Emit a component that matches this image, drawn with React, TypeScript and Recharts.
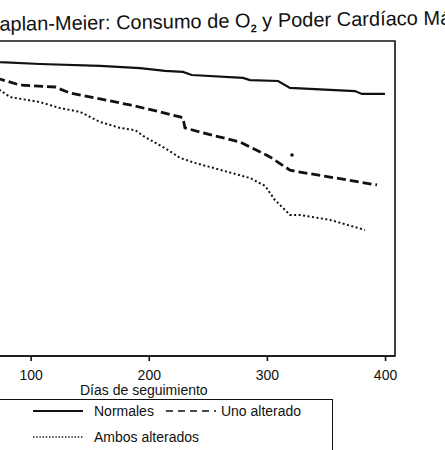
import { ComposedChart, Line, Scatter, XAxis, YAxis, ReferenceArea } from 'recharts';

// Kaplan-Meier curves (día de seguimiento, supervivencia acumulada)
const diasNormales = [0, 40, 73.6, 107.5, 158.3, 192.2, 213.3, 228.5, 236, 279.3, 285.3, 309, 319.1, 374.1, 380, 399.5];
const supNormales = [1, 0.955, 0.933, 0.927, 0.921, 0.914, 0.905, 0.902, 0.892, 0.883, 0.876, 0.873, 0.851, 0.841, 0.832, 0.832];

const diasUnoAlterado = [0, 40, 73.6, 90.6, 120.2, 132.9, 158.3, 183.7, 209.1, 226, 228.5, 230.2, 243, 276.8, 302.2, 319.1, 327.6, 392.8];
const supUnoAlterado = [1, 0.93, 0.879, 0.86, 0.854, 0.835, 0.816, 0.797, 0.775, 0.759, 0.756, 0.724, 0.711, 0.679, 0.632, 0.59, 0.584, 0.543];

const diasAmbos = [0, 40, 73.6, 82.2, 107.5, 124.4, 141.4, 158.3, 175.2, 188, 196.4, 213.3, 226, 238.7, 285.3, 298, 306.4, 319.1, 327.6, 353, 382.6];
const supAmbos = [1, 0.91, 0.844, 0.822, 0.806, 0.787, 0.775, 0.743, 0.724, 0.717, 0.695, 0.66, 0.629, 0.613, 0.565, 0.54, 0.495, 0.448, 0.448, 0.432, 0.4];

// punto suelto sobre la curva "Uno alterado"
const diasMarca = [320.8];
const supMarca = [0.638];

const ticksDias = [0, 100, 200, 300, 400];

const toData = (dias: number[], sup: number[]) => dias.map((d, i) => ({ dia: d, sup: sup[i] }));

const normales = toData(diasNormales, supNormales);
const unoAlterado = toData(diasUnoAlterado, supUnoAlterado);
const ambos = toData(diasAmbos, supAmbos);
const marca = toData(diasMarca, supMarca);

const FONT = '"Liberation Sans", Arial, Helvetica, sans-serif';
const INK = '#111';

function LegendSample({ dash, width }: { dash?: string; width: number }) {
  return (
    <svg width={50} height={10} style={{ display: 'block' }}>
      <line x1={0} y1={5} x2={50} y2={5} stroke={INK} strokeWidth={width} strokeDasharray={dash} />
    </svg>
  );
}

export default function App() {
  return (
    <div
      style={{
        position: 'fixed',
        left: 0,
        top: 0,
        width: 445,
        height: 450,
        overflow: 'hidden',
        background: '#fff',
        fontFamily: FONT,
        color: INK,
      }}
    >
      <div
        style={{
          position: 'absolute',
          left: -14,
          top: 14,
          fontSize: 20,
          lineHeight: '20px',
          whiteSpace: 'nowrap',
          transform: 'rotate(-0.8deg)',
          transformOrigin: '0 50%',
        }}
      >
        Kaplan-Meier: Consumo de O<sub style={{ fontSize: 11, fontWeight: 700, lineHeight: 0 }}>2</sub> y Poder Cardíaco Máximo
      </div>

      <div style={{ position: 'absolute', left: -87, top: 0 }}>
        <ComposedChart width={492} height={450} margin={{ top: 41, right: 10, bottom: 74, left: 0 }}>
          <XAxis
            dataKey="dia"
            type="number"
            domain={[0, 408]}
            ticks={ticksDias}
            interval={0}
            height={20}
            tickSize={5}
            tickMargin={9}
            axisLine={{ stroke: INK, strokeWidth: 1.6 }}
            tickLine={{ stroke: INK, strokeWidth: 1.6 }}
            tick={{ fill: INK, fontSize: 14, fontFamily: FONT }}
            allowDataOverflow
          />
          <YAxis hide type="number" domain={[0, 1]} />
          <ReferenceArea x1={0} x2={408} y1={0} y2={1} fill="none" stroke={INK} strokeWidth={1.6} ifOverflow="visible" />
          <Line data={normales} dataKey="sup" type="linear" stroke={INK} strokeWidth={2.2} dot={false} isAnimationActive={false} />
          <Line data={unoAlterado} dataKey="sup" type="linear" stroke={INK} strokeWidth={2.8} strokeDasharray="9 4" dot={false} isAnimationActive={false} />
          <Line data={ambos} dataKey="sup" type="linear" stroke={INK} strokeWidth={2} strokeDasharray="2 2.5" dot={false} isAnimationActive={false} />
          <Scatter data={marca} dataKey="sup" fill={INK} isAnimationActive={false} shape={(p: any) => <circle cx={p.cx} cy={p.cy} r={1.8} fill={INK} />} />
        </ComposedChart>
      </div>

      <div style={{ position: 'absolute', left: 80, top: 383, fontSize: 14, lineHeight: '15px', whiteSpace: 'nowrap' }}>
        Días de seguimiento
      </div>

      <div
        style={{
          position: 'absolute',
          left: -20,
          top: 399,
          width: 353,
          height: 52,
          border: `1.6px solid ${INK}`,
          borderBottomColor: '#bbb',
          boxSizing: 'border-box',
          fontSize: 14,
        }}
      >
        <div style={{ position: 'absolute', left: 52, top: 3, display: 'flex', alignItems: 'center', whiteSpace: 'nowrap' }}>
          <LegendSample width={1.8} />
          <span style={{ marginLeft: 11 }}>Normales</span>
          <span style={{ marginLeft: 12, display: 'inline-block' }}>
            <LegendSample width={1.6} dash="7 5" />
          </span>
          <span style={{ marginLeft: 5 }}>Uno alterado</span>
        </div>
        <div style={{ position: 'absolute', left: 52, top: 29, display: 'flex', alignItems: 'center', whiteSpace: 'nowrap' }}>
          <LegendSample width={1.6} dash="1.4 1.8" />
          <span style={{ marginLeft: 11 }}>Ambos alterados</span>
        </div>
      </div>
    </div>
  );
}
